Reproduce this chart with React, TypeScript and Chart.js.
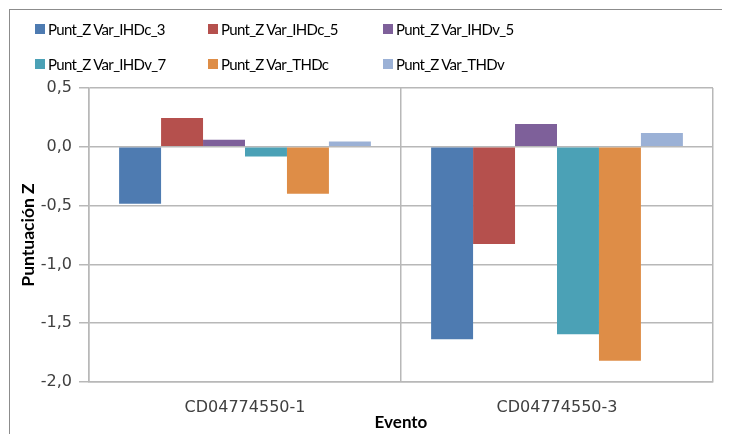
import React, { useEffect, useRef } from "react";
import { Chart, registerables } from "chart.js";

Chart.register(...registerables);

const categories = ["CD04774550-1", "CD04774550-3"];
const seriesNames = [
  "Punt_Z Var_IHDc_3",
  "Punt_Z Var_IHDc_5",
  "Punt_Z Var_IHDv_5",
  "Punt_Z Var_IHDv_7",
  "Punt_Z Var_THDc",
  "Punt_Z Var_THDv",
];
const ihdc3 = [-0.485, -1.637];
const ihdc5 = [0.244, -0.826];
const ihdv5 = [0.06, 0.193];
const ihdv7 = [-0.083, -1.594];
const thdc = [-0.4, -1.82];
const thdv = [0.045, 0.117];
const seriesValues = [ihdc3, ihdc5, ihdv5, ihdv7, thdc, thdv];
const colors = ["#4E7BB1", "#B5504D", "#7E609A", "#4BA1B6", "#DE8D47", "#9BB1D6"];

const FONT = "Lato, 'Open Sans', sans-serif";
const AXIS_FONT = "'DejaVu Sans', sans-serif";

const W = 714;
const H = 426;

export default function App() {
  const ref = useRef<HTMLCanvasElement | null>(null);
  useEffect(() => {
    document.body.style.overflow = "hidden";
    document.documentElement.style.overflow = "hidden";
    if (!ref.current) return;
    const chart = new Chart(ref.current, {
      type: "bar",
      data: {
        labels: categories,
        datasets: seriesNames.map((n, i) => ({
          label: n,
          data: seriesValues[i],
          backgroundColor: colors[i],
          borderWidth: 0,
          barPercentage: 1,
          categoryPercentage: 0.807,
        })),
      },
      options: {
        animation: false,
        responsive: false,
        maintainAspectRatio: false,
        layout: { padding: { top: 80, left: 0, right: 9, bottom: 0 } },
        plugins: { legend: { display: false }, tooltip: { enabled: false } },
        scales: {
          x: {
            grid: { color: "#b8b8b8", lineWidth: 1.5, tickLength: 0, drawTicks: false },
            border: { color: "#b8b8b8", width: 1.5 },
            ticks: { color: "#404040", font: { family: AXIS_FONT, size: 16 }, padding: 16 },
            title: {
              display: true,
              text: "Evento",
              color: "#000",
              font: { family: FONT, size: 17, weight: "bold" },
              padding: { top: 0, bottom: 1 },
            },
            afterFit: (s: any) => {
              s.height = 52;
            },
          },
          y: {
            min: -2,
            max: 0.5,
            grid: { color: "#b8b8b8", lineWidth: 1.5, tickLength: 10 },
            border: { color: "#b8b8b8", width: 1.5 },
            ticks: {
              stepSize: 0.5,
              color: "#404040",
              font: { family: AXIS_FONT, size: 16 },
              padding: 7,
              callback: (v: any) => Number(v).toFixed(1).replace(".", ","),
            },
            title: {
              display: true,
              text: "Puntuación Z",
              color: "#000",
              font: { family: FONT, size: 17.5, weight: "bold" },
              padding: { top: 10, bottom: 0 },
            },
            afterFit: (s: any) => {
              s.width = 81;
            },
          },
        },
      },
    });
    return () => chart.destroy();
  }, []);

  const legendCols = [35, 208, 383];
  const legendRows = [29, 64];

  return (
    <div style={{ position: "relative", width: W, height: H }}>
      <canvas
        ref={ref}
        width={W}
        height={H}
        style={{ position: "absolute", left: 0, top: 0, width: W, height: H }}
      />
      <div
        style={{
          position: "absolute",
          left: 1,
          top: 1,
          width: W - 1,
          height: H - 1,
          borderLeft: "1.5px solid #8c8c8c",
          borderTop: "1.5px solid #8c8c8c",
          boxSizing: "border-box",
          pointerEvents: "none",
        }}
      />
      {seriesNames.map((n, i) => {
        const x = legendCols[i % 3] - 8;
        const y = legendRows[Math.floor(i / 3)] - 8;
        return (
          <div
            key={n}
            style={{
              position: "absolute",
              left: x,
              top: y - 10,
              height: 20,
              display: "flex",
              alignItems: "center",
              whiteSpace: "nowrap",
              fontFamily: FONT,
              fontSize: 15,
              letterSpacing: "-0.7px",
              color: "#000",
            }}
          >
            <span
              style={{
                display: "inline-block",
                width: 10,
                height: 10,
                background: colors[i],
                marginRight: 3,
              }}
            />
            <span>{n}</span>
          </div>
        );
      })}
    </div>
  );
}
